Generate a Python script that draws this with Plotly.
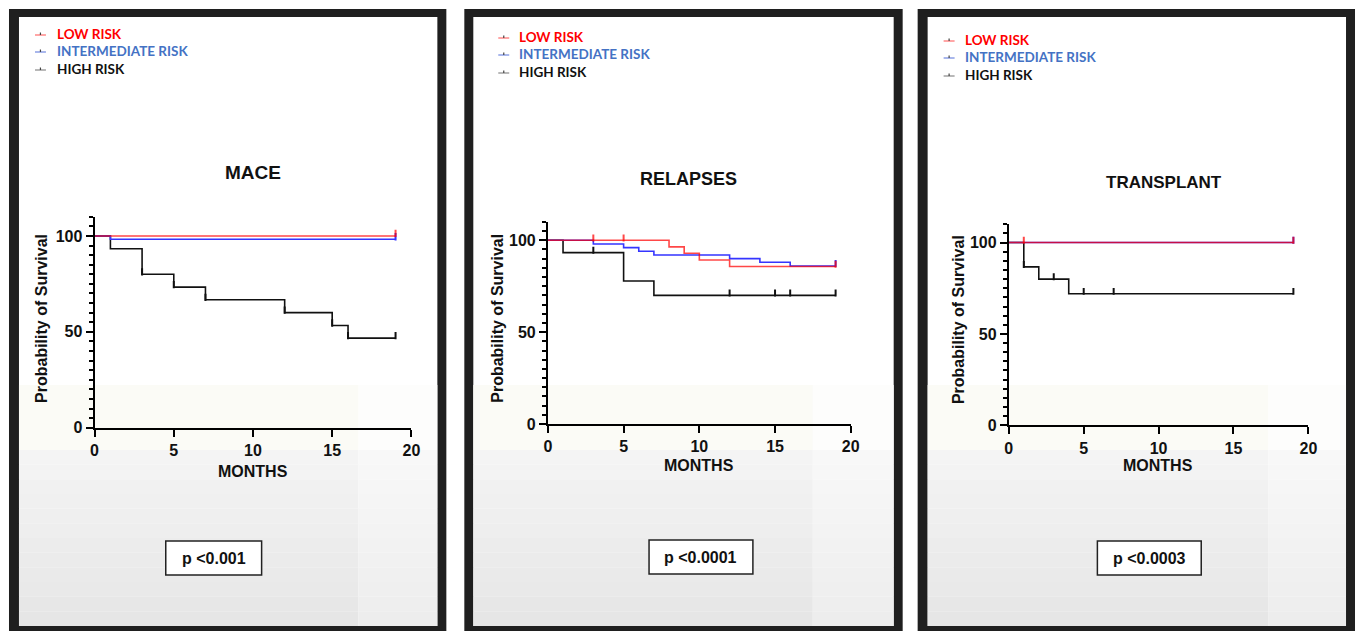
import plotly.graph_objects as go

# ---------------- DATA ----------------
panel_titles = ["MACE", "RELAPSES", "TRANSPLANT"]
p_values = ["p <0.001", "p <0.0001", "p <0.0003"]
series_names = ["LOW RISK", "INTERMEDIATE RISK", "HIGH RISK"]
x_ticks = [0, 5, 10, 15, 20]
y_ticks = [0, 50, 100]

# MACE
mace_low_t = [0, 19]
mace_low_s = [100, 100]
mace_int_t = [0, 1, 19]
mace_int_s = [100, 98.3, 98.3]
mace_high_t = [0, 1, 3, 5, 7, 12, 15, 16, 19]
mace_high_s = [100, 93.3, 80, 73.3, 66.7, 60, 53.3, 46.7, 46.7]
mace_low_cens_t = [19]
mace_low_cens_s = [100]
mace_int_cens_t = [19]
mace_int_cens_s = [98.3]
mace_high_cens_t = [3, 5, 7, 12, 15, 16, 19]
mace_high_cens_s = [80, 73.3, 66.7, 60, 53.3, 46.7, 46.7]

# RELAPSES
rel_low_t = [0, 8, 9, 10, 12, 19]
rel_low_s = [100, 96.4, 92.9, 89.3, 85.7, 85.7]
rel_int_t = [0, 3, 5, 6, 7, 12, 14, 16, 19]
rel_int_s = [100, 98, 96, 94, 92, 90, 88, 86, 86]
rel_high_t = [0, 1, 5, 7, 19]
rel_high_s = [100, 93.3, 77.8, 70, 70]
rel_low_cens_t = [3, 5, 19]
rel_low_cens_s = [100, 100, 85.7]
rel_int_cens_t = [19]
rel_int_cens_s = [86]
rel_high_cens_t = [3, 12, 15, 16, 19]
rel_high_cens_s = [93.3, 70, 70, 70, 70]

# TRANSPLANT
tx_low_t = [0, 19]
tx_low_s = [100, 100]
tx_int_t = [0, 19]
tx_int_s = [100, 100]
tx_high_t = [0, 1, 2, 4, 19]
tx_high_s = [100, 86.7, 80, 72, 72]
tx_low_cens_t = [1, 19]
tx_low_cens_s = [100, 100]
tx_int_cens_t = [19]
tx_int_cens_s = [100]
tx_high_cens_t = [1, 3, 5, 7, 19]
tx_high_cens_s = [86.7, 80, 72, 72, 72]

panels_data = [
    dict(low=(mace_low_t, mace_low_s), inter=(mace_int_t, mace_int_s), high=(mace_high_t, mace_high_s),
         low_c=(mace_low_cens_t, mace_low_cens_s), inter_c=(mace_int_cens_t, mace_int_cens_s),
         high_c=(mace_high_cens_t, mace_high_cens_s)),
    dict(low=(rel_low_t, rel_low_s), inter=(rel_int_t, rel_int_s), high=(rel_high_t, rel_high_s),
         low_c=(rel_low_cens_t, rel_low_cens_s), inter_c=(rel_int_cens_t, rel_int_cens_s),
         high_c=(rel_high_cens_t, rel_high_cens_s)),
    dict(low=(tx_low_t, tx_low_s), inter=(tx_int_t, tx_int_s), high=(tx_high_t, tx_high_s),
         low_c=(tx_low_cens_t, tx_low_cens_s), inter_c=(tx_int_cens_t, tx_int_cens_s),
         high_c=(tx_high_cens_t, tx_high_cens_s)),
]

# ---------------- STYLE / LAYOUT ----------------
W, H = 1357, 631          # design coordinate frame (reference pixels)
FIG_W, FIG_H = 1368, 640  # rendered figure size
X_SHIFT = -2


def px(x):
    return (x + X_SHIFT) / W


def py(y):
    return 1 - y / H


LINE_COL = {"low": "rgba(255,0,0,0.72)", "inter": "#3535ff", "high": "#111111"}
LEG_TEXT_COL = ["#ff0000", "#4472c4", "#111111"]
LEG_LINE_COL = ["#ff6a6a", "#6f86e0", "#888888"]

layout_geo = [
    dict(outer=(7, 9, 445, 631), inner=(17, 17, 436, 626), split=357,
         xdom=(92.7, 410.0), ydom=(216.8, 427.7),
         title=(251, 172, 19), ytitle=(39, 318), xtitle=(251, 471),
         pbox=(164, 541, 260, 575), leg_x=(33, 44, 53), leg_y=(34, 51, 69)),
    dict(outer=(463, 9, 902, 631), inner=(472, 17, 893, 626), split=812,
         xdom=(546.7, 850.0), ydom=(221.9, 424.0),
         title=(688, 179, 18), ytitle=(495.5, 318), xtitle=(698, 465),
         pbox=(648, 540, 752, 574), leg_x=(497, 508, 516), leg_y=(37, 54, 72)),
    dict(outer=(917, 9, 1355, 631), inner=(927, 17, 1346, 626), split=1268,
         xdom=(1008.3, 1308.3), ydom=(224.3, 425.3),
         title=(1164, 183, 17), ytitle=(957.5, 320), xtitle=(1158, 465),
         pbox=(1097, 541, 1201, 575), leg_x=(943, 954, 962), leg_y=(40, 57, 75)),
]

fig = go.Figure()
shapes = []
annotations = []

ARIAL = "Liberation Sans, Arial, sans-serif"
LEGFONT = "Lato, Carlito, Calibri, sans-serif"


def lerp(c1, c2, t):
    return tuple(int(round(a + (b - a) * t)) for a, b in zip(c1, c2))


for i, (geo, pdat) in enumerate(zip(layout_geo, panels_data)):
    n = "" if i == 0 else str(i + 1)
    # frame
    x0, y0, x1, y1 = geo["outer"]
    shapes.append(dict(type="rect", xref="paper", yref="paper", x0=px(x0), x1=px(x1), y0=py(y1), y1=py(y0),
                       fillcolor="#1f1f1f", line=dict(width=0), layer="below"))
    ix0, iy0, ix1, iy1 = geo["inner"]
    shapes.append(dict(type="rect", xref="paper", yref="paper", x0=px(ix0), x1=px(ix1), y0=py(iy1), y1=py(iy0),
                       fillcolor="#ffffff", line=dict(width=0), layer="below"))
    # background bands (lower part of panel)
    sp = geo["split"]
    shapes.append(dict(type="rect", xref="paper", yref="paper", x0=px(ix0), x1=px(sp), y0=py(450), y1=py(385),
                       fillcolor="#fbfbf6", line=dict(width=0), layer="below"))
    shapes.append(dict(type="rect", xref="paper", yref="paper", x0=px(sp), x1=px(ix1), y0=py(450), y1=py(385),
                       fillcolor="#fdfdfc", line=dict(width=0), layer="below"))
    nb = 12
    for b in range(nb):
        ya = 450 + (iy1 - 450) * b / nb
        yb = 450 + (iy1 - 450) * (b + 1) / nb
        c = lerp((244, 244, 244), (230, 230, 230), b / (nb - 1))
        c2 = lerp((248, 248, 248), (237, 237, 237), b / (nb - 1))
        shapes.append(dict(type="rect", xref="paper", yref="paper", x0=px(ix0), x1=px(sp), y0=py(yb), y1=py(ya),
                           fillcolor="rgb(%d,%d,%d)" % c, line=dict(width=0), layer="below"))
        shapes.append(dict(type="rect", xref="paper", yref="paper", x0=px(sp), x1=px(ix1), y0=py(yb), y1=py(ya),
                           fillcolor="rgb(%d,%d,%d)" % c2, line=dict(width=0), layer="below"))

    # traces (order: high, inter, low on top)
    for key in ["high", "inter", "low"]:
        t, s = pdat[key]
        fig.add_trace(go.Scatter(x=t, y=s, mode="lines", line=dict(color=LINE_COL[key], width=1.6, shape="hv"),
                                 xaxis="x" + n, yaxis="y" + n, showlegend=False, hoverinfo="skip",
                                 cliponaxis=False))
        ct, cs = pdat[key + "_c"]
        fig.add_trace(go.Scatter(x=ct, y=cs, mode="markers", marker=dict(size=0.1, color=LINE_COL[key]),
                                 error_y=dict(type="constant", symmetric=False, value=3.2, valueminus=0.6,
                                              width=0, thickness=2, color=LINE_COL[key]),
                                 xaxis="x" + n, yaxis="y" + n, showlegend=False, hoverinfo="skip",
                                 cliponaxis=False))

    xd0, xd1 = geo["xdom"]
    yd0, yd1 = geo["ydom"]
    axis_common = dict(showline=True, linecolor="black", linewidth=2, ticks="outside", ticklen=7,
                       tickwidth=2, tickcolor="black", showgrid=False, zeroline=False, fixedrange=True,
                       tickfont=dict(family=ARIAL, size=16, color="#111111", weight="bold"))
    fig.update_layout(**{
        "xaxis" + n: dict(domain=[px(xd0), px(xd1)], range=[0, 20], tickvals=x_ticks,
                          anchor="y" + n, **axis_common),
        "yaxis" + n: dict(domain=[py(yd1), py(yd0)], range=[0, 110], tickvals=y_ticks,
                          anchor="x" + n,
                          minor=dict(tickvals=list(range(0, 111, 5)), ticklen=4, tickwidth=1.5,
                                     ticks="outside", tickcolor="black", showgrid=False),
                          **axis_common),
    })

    # titles and labels
    tx, ty, tsz = geo["title"]
    annotations.append(dict(text="<b>%s</b>" % panel_titles[i], x=px(tx), y=py(ty), xref="paper", yref="paper",
                            showarrow=False, xanchor="center", yanchor="middle",
                            font=dict(family=ARIAL, size=tsz, color="#111111")))
    yx, yy = geo["ytitle"]
    annotations.append(dict(text="<b>Probability of Survival</b>", x=px(yx), y=py(yy), xref="paper",
                            yref="paper", showarrow=False, xanchor="center", yanchor="middle", textangle=-90,
                            font=dict(family=ARIAL, size=16, color="#111111")))
    mx, my = geo["xtitle"]
    annotations.append(dict(text="<b>MONTHS</b>", x=px(mx), y=py(my), xref="paper", yref="paper",
                            showarrow=False, xanchor="center", yanchor="middle",
                            font=dict(family=ARIAL, size=16, color="#111111")))
    # p-value box
    bx0, by0, bx1, by1 = geo["pbox"]
    shapes.append(dict(type="rect", xref="paper", yref="paper", x0=px(bx0), x1=px(bx1), y0=py(by1), y1=py(by0),
                       fillcolor="#ffffff", line=dict(color="#222222", width=1.5), layer="above"))
    annotations.append(dict(text="<b>%s</b>" % p_values[i], x=px((bx0 + bx1) / 2), y=py((by0 + by1) / 2),
                            xref="paper", yref="paper", showarrow=False, xanchor="center", yanchor="middle",
                            font=dict(family=ARIAL, size=16, color="#111111")))
    # legend
    lx0, lx1, ltx = geo["leg_x"]
    for k, name in enumerate(series_names):
        ly = geo["leg_y"][k]
        shapes.append(dict(type="line", xref="paper", yref="paper", x0=px(lx0), x1=px(lx1),
                           y0=py(ly + 1), y1=py(ly + 1), line=dict(color=LEG_LINE_COL[k], width=1.2)))
        shapes.append(dict(type="line", xref="paper", yref="paper", x0=px((lx0 + lx1) / 2),
                           x1=px((lx0 + lx1) / 2), y0=py(ly + 1), y1=py(ly - 1.5),
                           line=dict(color="#444444", width=1.2)))
        annotations.append(dict(text="<b>%s</b>" % name, x=px(ltx), y=py(ly), xref="paper", yref="paper",
                                showarrow=False, xanchor="left", yanchor="middle",
                                font=dict(family=LEGFONT, size=13.5, color=LEG_TEXT_COL[k])))

fig.update_layout(width=FIG_W, height=FIG_H, margin=dict(l=0, r=0, t=0, b=0), paper_bgcolor="#ffffff",
                  plot_bgcolor="rgba(0,0,0,0)", shapes=shapes, annotations=annotations, showlegend=False)

post = (
    "document.documentElement.style.margin='0';document.documentElement.style.overflow='hidden';"
    "document.body.style.margin='0';document.body.style.overflow='hidden';"
)
fig.write_html("out.html", config={"displayModeBar": False}, post_script=post)
